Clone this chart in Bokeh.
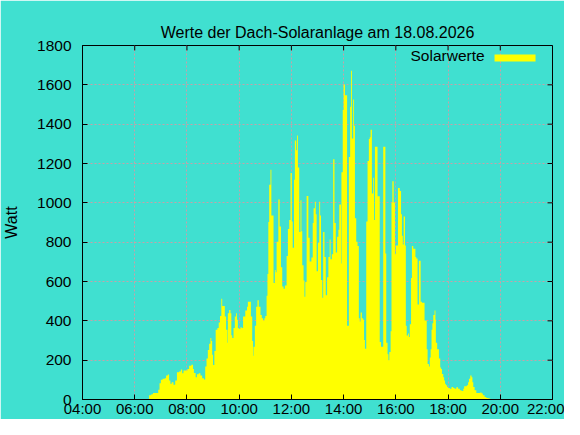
from bokeh.plotting import figure
from bokeh.models import FixedTicker, Label, BoxAnnotation, Range1d, LinearAxis
from bokeh.embed import file_html
from bokeh.resources import INLINE

# ---- data (time in minutes after midnight, power in Watt) ----
minutes = [
    393, 398, 402, 414, 417, 420, 424, 429, 432, 436, 439, 442, 445, 449, 453, 457,
    462, 466, 469, 472, 477, 481, 485, 490, 494, 496, 500, 503, 507, 511, 515, 519,
    522, 525, 528, 531, 534, 536, 538, 540, 543, 546, 550, 553, 556, 559, 561, 564,
    567, 570, 573, 574, 577, 580, 582, 584, 587, 590, 593, 595, 597, 599, 603, 606,
    609, 614, 618, 620, 624, 627, 630, 632, 633, 636, 639, 642, 645, 649, 652, 655,
    658, 660, 663, 665, 667, 669, 672, 674, 677, 679, 682, 684, 686, 690, 693, 696,
    699, 702, 705, 709, 712, 715, 718, 721, 723, 726, 728, 731, 733, 735, 738, 741,
    743, 745, 748, 750, 752, 755, 759, 762, 766, 769, 771, 774, 776, 778, 781, 784,
    786, 788, 791, 793, 796, 799, 802, 805, 808, 810, 813, 816, 819, 822, 825, 828,
    830, 834, 835, 838, 840, 843, 848, 852, 855, 857, 859, 862, 864, 866, 869, 872,
    875, 877, 879, 882, 885, 887, 889, 892, 895, 898, 900, 902, 905, 908, 910, 912,
    918, 923, 926, 931, 936, 938, 941, 943, 945, 948, 950, 952, 955, 958, 960, 965,
    969, 972, 974, 976, 978, 981, 983, 985, 988, 990, 992, 995, 997, 1000, 1005, 1007,
    1010, 1013, 1017, 1020, 1026, 1031, 1033, 1036, 1038, 1040, 1042, 1044, 1046, 1049, 1051, 1052,
    1055, 1059, 1062, 1064, 1066, 1069, 1071, 1073, 1075, 1078, 1080, 1084, 1088, 1092, 1095, 1099,
    1103, 1107, 1111, 1115, 1117, 1123, 1126, 1128, 1131, 1134, 1136, 1138, 1141, 1145, 1154, 1157,
    1160, 1164, 1168, 1173, 1177,
]
watts = [
    22, 27, 33, 50, 83, 100, 105, 108, 122, 127, 97, 80, 88, 75, 97, 138,
    143, 152, 133, 147, 147, 155, 172, 177, 155, 135, 113, 128, 133, 122, 108, 102,
    168, 208, 252, 283, 313, 297, 227, 175, 247, 355, 363, 392, 425, 512, 475, 475,
    422, 355, 288, 438, 455, 438, 327, 313, 363, 422, 438, 405, 363, 360, 368, 363,
    422, 452, 472, 497, 497, 422, 297, 222, 268, 375, 472, 505, 472, 430, 413, 402,
    413, 425, 527, 638, 902, 1092, 1168, 935, 935, 593, 658, 647, 802, 1017, 880, 672,
    575, 563, 580, 730, 867, 913, 1152, 905, 772, 1118, 1317, 1267, 1342, 1180, 852, 1013,
    855, 683, 605, 522, 597, 1035, 822, 702, 722, 897, 972, 1005, 942, 652, 797, 1005,
    935, 608, 518, 852, 725, 530, 622, 725, 813, 713, 738, 1222, 897, 747, 827, 863,
    992, 692, 1155, 1472, 1602, 1547, 375, 1233, 1488, 1672, 1327, 1525, 1392, 922, 802, 780,
    413, 397, 442, 413, 405, 302, 258, 905, 1213, 1325, 1333, 1372, 1047, 1127, 913, 1285,
    1033, 293, 268, 1285, 742, 288, 230, 200, 242, 347, 1002, 1110, 1002, 738, 783, 1075,
    1060, 942, 833, 788, 930, 783, 375, 325, 335, 318, 383, 618, 780, 767, 725, 717,
    483, 705, 497, 492, 402, 255, 180, 168, 213, 255, 355, 388, 430, 452, 405, 288,
    255, 208, 163, 155, 130, 113, 97, 80, 72, 63, 58, 55, 63, 58, 55, 62,
    55, 47, 43, 55, 67, 72, 88, 105, 122, 113, 88, 63, 47, 33, 35, 30,
    22, 13, 8, 5, 0,
]
hours = [m / 60.0 for m in minutes]

x_ticks = [4, 6, 8, 10, 12, 14, 16, 18, 20, 22]
x_tick_labels = ["04:00", "06:00", "08:00", "10:00", "12:00", "14:00",
                 "16:00", "18:00", "20:00", "22:00"]
y_ticks = [0, 200, 400, 600, 800, 1000, 1200, 1400, 1600, 1800]

title_text = "Werte der Dach-Solaranlage am 18.08.2026"
series_name = "Solarwerte"
y_label = "Watt"

BG = "#40E0D0"
FG = "#FFFF00"
GRID = "#c8a0a8"
FONT = "Liberation Sans"
X0, X1, Y0, Y1 = 4, 22, 0, 1800

p = figure(width=564, height=419, output_backend="svg", toolbar_location=None,
           x_range=Range1d(X0, X1), y_range=Range1d(Y0, Y1),
           min_border_left=82, min_border_right=12, min_border_top=45,
           min_border_bottom=18,
           background_fill_color=BG, border_fill_color=BG,
           outline_line_color="black", outline_line_width=1)

p.varea_step(x=hours, y1=[0] * len(watts), y2=watts, step_mode="after",
             fill_color=FG, fill_alpha=1.0)

p.title.text = title_text
p.title.align = "center"
p.title.text_font = FONT
p.title.text_font_size = "16px"
p.title.text_font_style = "normal"
p.title.text_color = "black"
p.title.standoff = 10

# empty top axis (no ticks, no line) used only as a spacer below the title
spacer = LinearAxis(ticker=FixedTicker(ticks=[]), axis_line_color=None,
                    major_tick_in=0, major_tick_out=8,
                    minor_tick_line_color=None, major_label_standoff=0)
p.add_layout(spacer, "above")

xt = FixedTicker(ticks=x_ticks)
yt = FixedTicker(ticks=y_ticks)

xa = p.below[0]
ya = p.left[0]
xa.ticker = xt
xa.major_label_overrides = {t: l for t, l in zip(x_ticks, x_tick_labels)}
xa.major_label_standoff = 0
ya.ticker = yt
ya.major_label_standoff = 11
ya.axis_label = y_label
ya.axis_label_standoff = 14
ya.axis_label_text_font = FONT
ya.axis_label_text_font_size = "16px"
ya.axis_label_text_font_style = "normal"
ya.axis_label_text_color = "black"
for ax in (xa, ya):
    ax.major_tick_in = 5
    ax.major_tick_out = 0
    ax.minor_tick_line_color = None
    ax.axis_line_color = "black"
    ax.major_tick_line_color = "black"
    ax.major_label_text_font = FONT
    ax.major_label_text_color = "black"
xa.major_label_text_font_size = "15px"
ya.major_label_text_font_size = "15.5px"

# mirrored ticks on the top and right frame edges (gnuplot style)
tick_len_y = 25.0   # ~5 px in Watt
tick_len_x = 0.19   # ~5 px in hours
p.segment(x0=x_ticks, x1=x_ticks, y0=[Y1] * len(x_ticks),
          y1=[Y1 - tick_len_y] * len(x_ticks), line_color="black", line_width=1)
p.segment(x0=[X1] * len(y_ticks), x1=[X1 - tick_len_x] * len(y_ticks),
          y0=y_ticks, y1=y_ticks, line_color="black", line_width=1)

p.xgrid.ticker = xt
p.ygrid.ticker = yt
for g in (p.xgrid[0], p.ygrid[0]):
    g.grid_line_color = GRID
    g.grid_line_dash = "2 2"
    g.grid_line_width = 1

# legend (gnuplot style: label left of the sample box)
p.add_layout(Label(x=19.40, y=1749, text=series_name, text_align="right",
                   text_baseline="middle", text_font=FONT,
                   text_font_size="15.5px", text_color="black"))
p.add_layout(BoxAnnotation(left=19.78, right=21.35, bottom=1719, top=1754,
                           fill_color=FG, fill_alpha=1.0, line_color=None))

html = file_html(p, INLINE)
html = html.replace("<body>", '<body style="background-color:%s;">' % BG, 1)
open("out.html", "w").write(html)
